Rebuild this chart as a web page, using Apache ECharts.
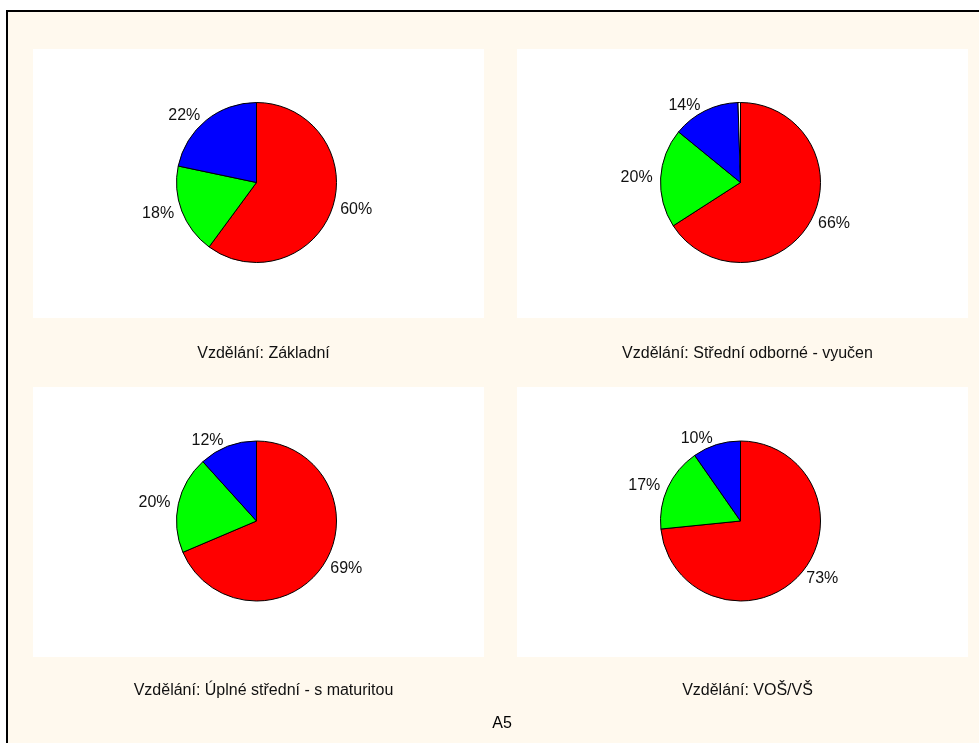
<!DOCTYPE html>
<html>
<head>
<meta charset="utf-8">
<title>A5</title>
<script src="https://cdn.jsdelivr.net/npm/echarts@6/dist/echarts.min.js"></script>
<style>
  html, body { margin: 0; padding: 0; background: #fff; }
  #chart { width: 979px; height: 743px; }
</style>
</head>
<body>
<div id="chart"></div>
<script>
// answer categories (slice order, clockwise from 12 o'clock)
const categories = ['odpověď 1', 'odpověď 2', 'odpověď 3', 'neuvedeno']
const sliceColors = ['#ff0000', '#00ff00', '#0000ff', '#ffffff']

// share of answers in %, per education level
const zakladni = [60.1, 18.2, 21.7]
const stredniOdborne = [65.9, 20.0, 13.6, 0.5]
const uplneStredni = [68.6, 19.7, 11.7]
const vosVs = [73.4, 16.9, 9.7]

const panelTitles = [
  'Vzdělání: Základní',
  'Vzdělání: Střední odborné - vyučen',
  'Vzdělání: Úplné střední - s maturitou',
  'Vzdělání: VOŠ/VŠ'
]
const chartTitle = 'A5'

const font = 'Arial, "Liberation Sans", sans-serif'

// panel boxes: [left, top, width, height]
const panels = [
  [33, 49, 451, 269],
  [517, 49, 451, 269],
  [33, 387, 451, 270],
  [517, 387, 451, 270]
]
const seriesValues = [zakladni, stredniOdborne, uplneStredni, vosVs]

const chart = echarts.init(document.getElementById('chart'))

const graphic = [{
  type: 'rect',
  shape: { x: 7, y: 11, width: 1010, height: 800 },
  style: { fill: '#fff9ee', stroke: '#000', lineWidth: 2 },
  z: -10
}]
panels.forEach(p => {
  graphic.push({
    type: 'rect',
    shape: { x: p[0], y: p[1], width: p[2], height: p[3] },
    style: { fill: '#ffffff' },
    z: -9
  })
})

const titles = panels.map((p, i) => ({
  text: panelTitles[i],
  left: p[0] + p[2] / 2,
  top: p[1] + p[3] + (i < 2 ? 23 : 21),
  textAlign: 'center',
  textStyle: { fontFamily: font, fontSize: 16, fontWeight: 'normal', color: '#111' }
}))
titles.push({
  text: chartTitle,
  left: 497,
  top: 711,
  textAlign: 'center',
  textStyle: { fontFamily: font, fontSize: 16, fontWeight: 'normal', color: '#000' }
})

const series = panels.map((p, i) => ({
  type: 'pie',
  center: [p[0] + p[2] / 2 - 2, p[1] + p[3] / 2 - 1],
  radius: 80,
  startAngle: 90,
  clockwise: true,
  avoidLabelOverlap: false,
  animation: false,
  silent: true,
  data: seriesValues[i].map((v, k) => ({
    name: categories[k],
    value: v,
    itemStyle: { color: sliceColors[k] }
  })),
  itemStyle: { borderColor: '#000', borderWidth: 1 },
  label: {
    show: true,
    position: 'outside',
    formatter: d => d.value < 1 ? '' : Math.round(d.value) + '%',
    fontFamily: font,
    fontSize: 16,
    color: '#111',
    distanceToLabelLine: 2
  },
  labelLine: { show: false, length: 6, length2: 0 },
  emphasis: { disabled: true }
}))

chart.setOption({
  backgroundColor: '#ffffff',
  animation: false,
  graphic,
  title: titles,
  series
})
</script>
</body>
</html>
